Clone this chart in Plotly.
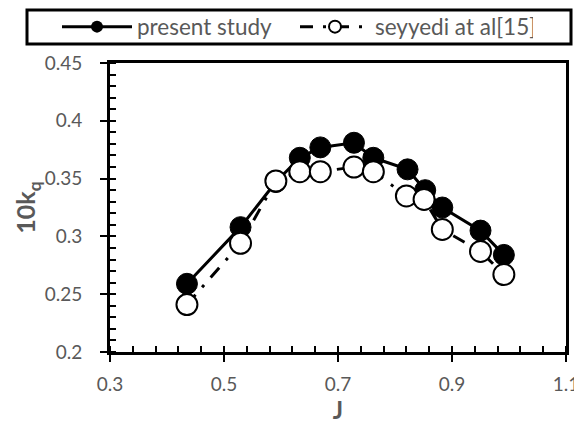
import plotly.graph_objects as go

J_present = [0.435, 0.529, 0.591, 0.633, 0.669, 0.728, 0.762, 0.822, 0.853, 0.883, 0.950, 0.991]
kq_present = [0.259, 0.308, 0.347, 0.368, 0.377, 0.381, 0.368, 0.358, 0.340, 0.325, 0.305, 0.284]

J_seyyedi = [0.435, 0.529, 0.591, 0.633, 0.669, 0.728, 0.762, 0.820, 0.851, 0.883, 0.950, 0.991]
kq_seyyedi = [0.241, 0.294, 0.348, 0.356, 0.356, 0.360, 0.356, 0.335, 0.332, 0.306, 0.287, 0.267]

x_ticks = [0.3, 0.5, 0.7, 0.9, 1.1]
y_ticks = [0.2, 0.25, 0.3, 0.35, 0.4, 0.45]

grey = "#595959"
font_family = "Lato"
dash_pattern = "13px,10px,3px,10px"

# page body adds an 8px offset; figure is sized to fit the window
OFF = 8
W, H = 582 - OFF, 424 - OFF
PL, PR, PT, PB = 110 - OFF, 566 - OFF, 63 - OFF, 352 - OFF
PW, PH = PR - PL, PB - PT


def px_x(sx):
    return (sx - OFF - PL) / PW


def px_y(sy):
    return (PB - (sy - OFF)) / PH


fig = go.Figure()

fig.add_trace(go.Scatter(
    x=J_present, y=kq_present, mode="lines+markers", showlegend=False,
    line=dict(color="black", width=3),
    marker=dict(size=21, color="black", line=dict(color="black", width=1)),
))
fig.add_trace(go.Scatter(
    x=J_seyyedi, y=kq_seyyedi, mode="lines+markers", showlegend=False,
    line=dict(color="black", width=3, dash=dash_pattern),
    marker=dict(size=21, color="white", line=dict(color="black", width=2)),
))
# legend entries
fig.add_trace(go.Scatter(
    x=[None], y=[None], mode="lines+markers", name="present study",
    line=dict(color="black", width=3),
    marker=dict(size=12, color="black"),
))
fig.add_trace(go.Scatter(
    x=[None], y=[None], mode="lines+markers", name="seyyedi at al[15]",
    line=dict(color="black", width=3, dash=dash_pattern),
    marker=dict(size=12, color="white", line=dict(color="black", width=2)),
))

axis_common = dict(
    showgrid=False, zeroline=False, showline=True, linecolor="black", linewidth=3,
    mirror=True, ticks="outside", ticklen=7, tickwidth=2, tickcolor="black",
    tickfont=dict(family=font_family, size=19, color=grey),
)

fig.update_xaxes(
    range=[0.3, 1.1], tickvals=x_ticks, ticktext=[str(v) for v in x_ticks],
    minor=dict(ticks="inside", ticklen=6, tickwidth=1.5, tickcolor="black", dtick=0.04, tick0=0.3),
    ticklabelstandoff=6,
    title=dict(text="<b>J</b>", font=dict(family=font_family, size=24, color=grey), standoff=3),
    **axis_common,
)
fig.update_yaxes(
    range=[0.2, 0.45], tickvals=y_ticks, ticktext=[str(v) for v in y_ticks],
    minor=dict(ticks="inside", ticklen=6, tickwidth=1.5, tickcolor="black", dtick=0.01, tick0=0.2),
    ticklabelstandoff=14,
    title=dict(text="<b>10k<sub>q</sub></b>", font=dict(family=font_family, size=25, color=grey), standoff=0),
    **axis_common,
)

# legend frame
fig.add_shape(
    type="rect", xref="paper", yref="paper",
    x0=px_x(27), x1=px_x(571),
    y0=px_y(44), y1=px_y(10),
    line=dict(color="black", width=3), fillcolor="rgba(0,0,0,0)", layer="above",
)

fig.update_layout(
    width=W, height=H,
    margin=dict(l=PL, r=W - PR, t=PT, b=H - PB, autoexpand=False),
    plot_bgcolor="white", paper_bgcolor="white",
    legend=dict(
        orientation="h", x=px_x(57), xanchor="left", y=px_y(27), yanchor="middle",
        borderwidth=0, bgcolor="rgba(0,0,0,0)",
        font=dict(family=font_family, size=22.5, color=grey),
        itemwidth=70,
        entrywidth=153, entrywidthmode="pixels",
    ),
)

fig.write_html("out.html")
